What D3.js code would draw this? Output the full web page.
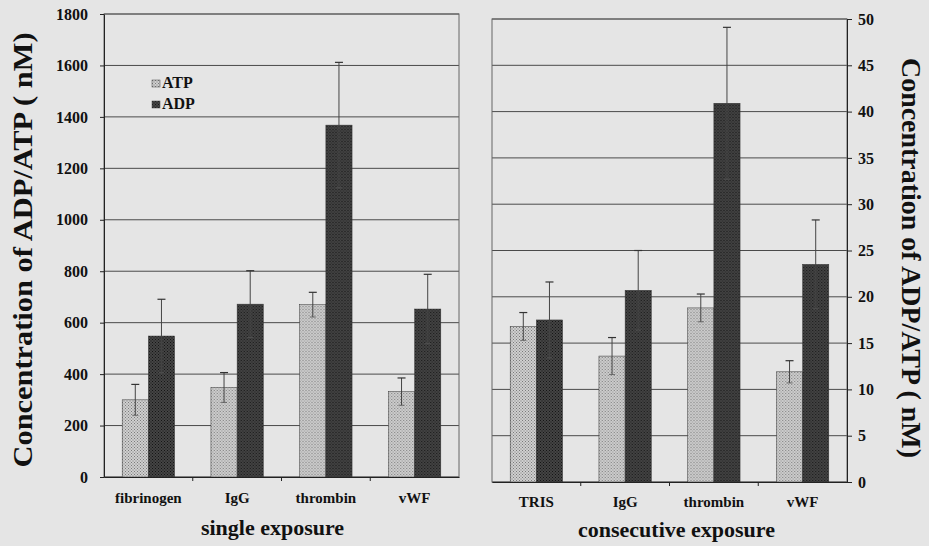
<!DOCTYPE html>
<html>
<head>
<meta charset="utf-8">
<script src="https://cdn.jsdelivr.net/npm/d3@7"></script>
<style>
  body { margin: 0; background: #e5e5e5; }
  svg { display: block; }
  text { font-family: "Liberation Serif", "Times New Roman", Tinos, "DejaVu Serif", serif; font-weight: bold; fill: #111; }
</style>
</head>
<body>
<svg id="chart" width="929" height="546"></svg>
<script>
// Series names
const SERIES = ['ATP', 'ADP'];

// Left panel: single exposure (nM)
const singleCats = ['fibrinogen', 'IgG', 'thrombin', 'vWF'];
const singleATP = [300, 348, 670, 332];
const singleATPErr = [60, 58, 48, 53];
const singleADP = [548, 672, 1368, 653];
const singleADPErr = [143, 130, 244, 135];
const singleTicks = [0, 200, 400, 600, 800, 1000, 1200, 1400, 1600, 1800];

// Right panel: consecutive exposure (nM)
const consecCats = ['TRIS', 'IgG', 'thrombin', 'vWF'];
const consecATP = [16.8, 13.6, 18.8, 11.9];
const consecATPErr = [1.5, 2.0, 1.5, 1.2];
const consecADP = [17.5, 20.7, 40.9, 23.5];
const consecADPErr = [4.1, 4.3, 8.2, 4.8];
const consecTicks = [0, 5, 10, 15, 20, 25, 30, 35, 40, 45, 50];

const FONT = '"Liberation Serif", "Times New Roman", Tinos, "DejaVu Serif", serif';
const svg = d3.select('#chart');

// stipple fills to mimic the printed halftone
const defs = svg.append('defs');
function stipple(id, base, dot) {
  let p = defs.append('pattern')
    .attr('id', id)
    .attr('width', 3).attr('height', 3)
    .attr('patternUnits', 'userSpaceOnUse');
  p.append('rect').attr('width', 3).attr('height', 3).attr('fill', base);
  p.append('rect').attr('x', 0).attr('y', 0).attr('width', 1).attr('height', 1).attr('fill', dot);
  p.append('rect').attr('x', 1.5).attr('y', 1.5).attr('width', 1).attr('height', 1).attr('fill', dot);
}
stipple('fill-atp', '#cfcfcf', '#7a7a7a');
stipple('fill-adp', '#444', '#151515');
const FILL = { ATP: 'url(#fill-atp)', ADP: 'url(#fill-adp)' };

function rows(cats, atp, atpErr, adp, adpErr) {
  return cats.map((c, i) => ({
    cat: c,
    vals: [
      { key: 'ATP', v: atp[i], e: atpErr[i] },
      { key: 'ADP', v: adp[i], e: adpErr[i] }
    ]
  }));
}

function styleText(sel, size) {
  sel.attr('font-size', size)
    .attr('font-family', FONT)
    .attr('font-weight', 'bold')
    .attr('fill', '#111');
}

function drawPanel(opts) {
  let g = svg.append('g');
  let x0 = d3.scaleBand().domain(opts.cats).range(opts.xr).padding(0);
  let bw = x0.bandwidth();
  let x1 = d3.scaleBand().domain(SERIES).range([bw * 0.205, bw * 0.795]).padding(0);
  let y = d3.scaleLinear().domain(opts.ydom).range(opts.yr);

  // gridlines
  g.selectAll('.grid').data(opts.ticks)
    .enter().append('line')
    .attr('x1', opts.xr[0]).attr('x2', opts.xr[1])
    .attr('y1', d => y(d)).attr('y2', d => y(d))
    .attr('stroke', '#4a4a4a').attr('stroke-width', 1);

  // frame
  g.append('rect')
    .attr('x', opts.xr[0]).attr('y', opts.yr[1])
    .attr('width', opts.xr[1] - opts.xr[0])
    .attr('height', opts.yr[0] - opts.yr[1])
    .attr('fill', 'none').attr('stroke', '#666').attr('stroke-width', 1);

  let data = rows(opts.cats, opts.atp, opts.atpErr, opts.adp, opts.adpErr);
  let grp = g.selectAll('.cat').data(data)
    .enter().append('g')
    .attr('transform', d => `translate(${x0(d.cat)},0)`);

  grp.selectAll('rect').data(d => d.vals)
    .enter().append('rect')
    .attr('x', d => x1(d.key))
    .attr('y', d => y(d.v))
    .attr('width', x1.bandwidth())
    .attr('height', d => y(0) - y(d.v))
    .attr('fill', d => FILL[d.key])
    .attr('stroke', '#333').attr('stroke-width', 0.5);

  // error bars
  let eb = grp.selectAll('.err').data(d => d.vals)
    .enter().append('g')
    .attr('transform', d => `translate(${x1(d.key) + x1.bandwidth() / 2},0)`);
  eb.append('line')
    .attr('y1', d => y(d.v - d.e)).attr('y2', d => y(d.v + d.e))
    .attr('stroke', '#444').attr('stroke-width', 1);
  eb.append('line')
    .attr('x1', -4).attr('x2', 4)
    .attr('y1', d => y(d.v + d.e)).attr('y2', d => y(d.v + d.e))
    .attr('stroke', '#333').attr('stroke-width', 1.2);
  eb.append('line')
    .attr('x1', -3).attr('x2', 3)
    .attr('y1', d => y(d.v - d.e)).attr('y2', d => y(d.v - d.e))
    .attr('stroke', '#555').attr('stroke-width', 0.8);

  // value axis
  let axis = (opts.side === 'left' ? d3.axisLeft(y) : d3.axisRight(y))
    .tickValues(opts.ticks)
    .tickSizeOuter(0)
    .tickSizeInner(opts.side === 'left' ? 4 : 5)
    .tickPadding(opts.side === 'left' ? 12 : 6)
    .tickFormat(d3.format('d'));
  let ax = g.append('g')
    .attr('transform', `translate(${opts.side === 'left' ? opts.xr[0] : opts.xr[1]},0)`)
    .call(axis)
    .attr('font-family', FONT);
  ax.select('.domain').attr('stroke', '#222');
  ax.selectAll('.tick line').attr('stroke', '#222');
  styleText(ax.selectAll('.tick text'), 16);

  // category axis
  let cx = g.append('g')
    .attr('transform', `translate(0,${opts.yr[0]})`)
    .call(d3.axisBottom(x0).tickSize(0).tickPadding(opts.catPad))
    .attr('font-family', FONT);
  cx.select('.domain').attr('stroke', '#222');
  styleText(cx.selectAll('.tick text'), 15);
  g.selectAll('.ctick').data(opts.cats.slice(1))
    .enter().append('line')
    .attr('x1', d => x0(d)).attr('x2', d => x0(d))
    .attr('y1', opts.yr[0]).attr('y2', opts.yr[0] + 4)
    .attr('stroke', '#222');

  g.append('text')
    .attr('x', (opts.xr[0] + opts.xr[1]) / 2 + opts.titleDx)
    .attr('y', opts.titleY)
    .attr('text-anchor', 'middle')
    .attr('font-size', 22)
    .text(opts.title);
  return g;
}

drawPanel({
  cats: singleCats, atp: singleATP, atpErr: singleATPErr, adp: singleADP, adpErr: singleADPErr,
  ticks: singleTicks, ydom: [0, 1800],
  xr: [104, 459], yr: [477, 14], side: 'left', catPad: 15,
  title: 'single exposure', titleY: 535, titleDx: -9
});

drawPanel({
  cats: consecCats, atp: consecATP, atpErr: consecATPErr, adp: consecADP, adpErr: consecADPErr,
  ticks: consecTicks, ydom: [0, 50],
  xr: [492, 847], yr: [482, 19], side: 'right', catPad: 14,
  title: 'consecutive exposure', titleY: 537, titleDx: 7
});

// legend
const legend = svg.append('g').attr('transform', 'translate(152,80)');
let li = legend.selectAll('g').data(SERIES)
  .enter().append('g')
  .attr('transform', (d, i) => `translate(0,${i * 21})`);
li.append('rect')
  .attr('width', 8).attr('height', 7)
  .attr('fill', d => FILL[d]).attr('stroke', '#444').attr('stroke-width', 0.5);
li.append('text')
  .attr('x', 10).attr('y', 8)
  .attr('font-size', 16)
  .text(d => d);

// axis titles
svg.append('text')
  .attr('transform', 'translate(32,250) rotate(-90)')
  .attr('text-anchor', 'middle')
  .attr('font-size', 28)
  .attr('textLength', 435)
  .attr('lengthAdjust', 'spacingAndGlyphs')
  .text('Concentration of ADP/ATP ( nM)');
svg.append('text')
  .attr('transform', 'translate(902,258) rotate(90)')
  .attr('text-anchor', 'middle')
  .attr('font-size', 27)
  .attr('textLength', 400)
  .attr('lengthAdjust', 'spacingAndGlyphs')
  .text('Concentration of ADP/ATP ( nM)');
</script>
</body>
</html>
